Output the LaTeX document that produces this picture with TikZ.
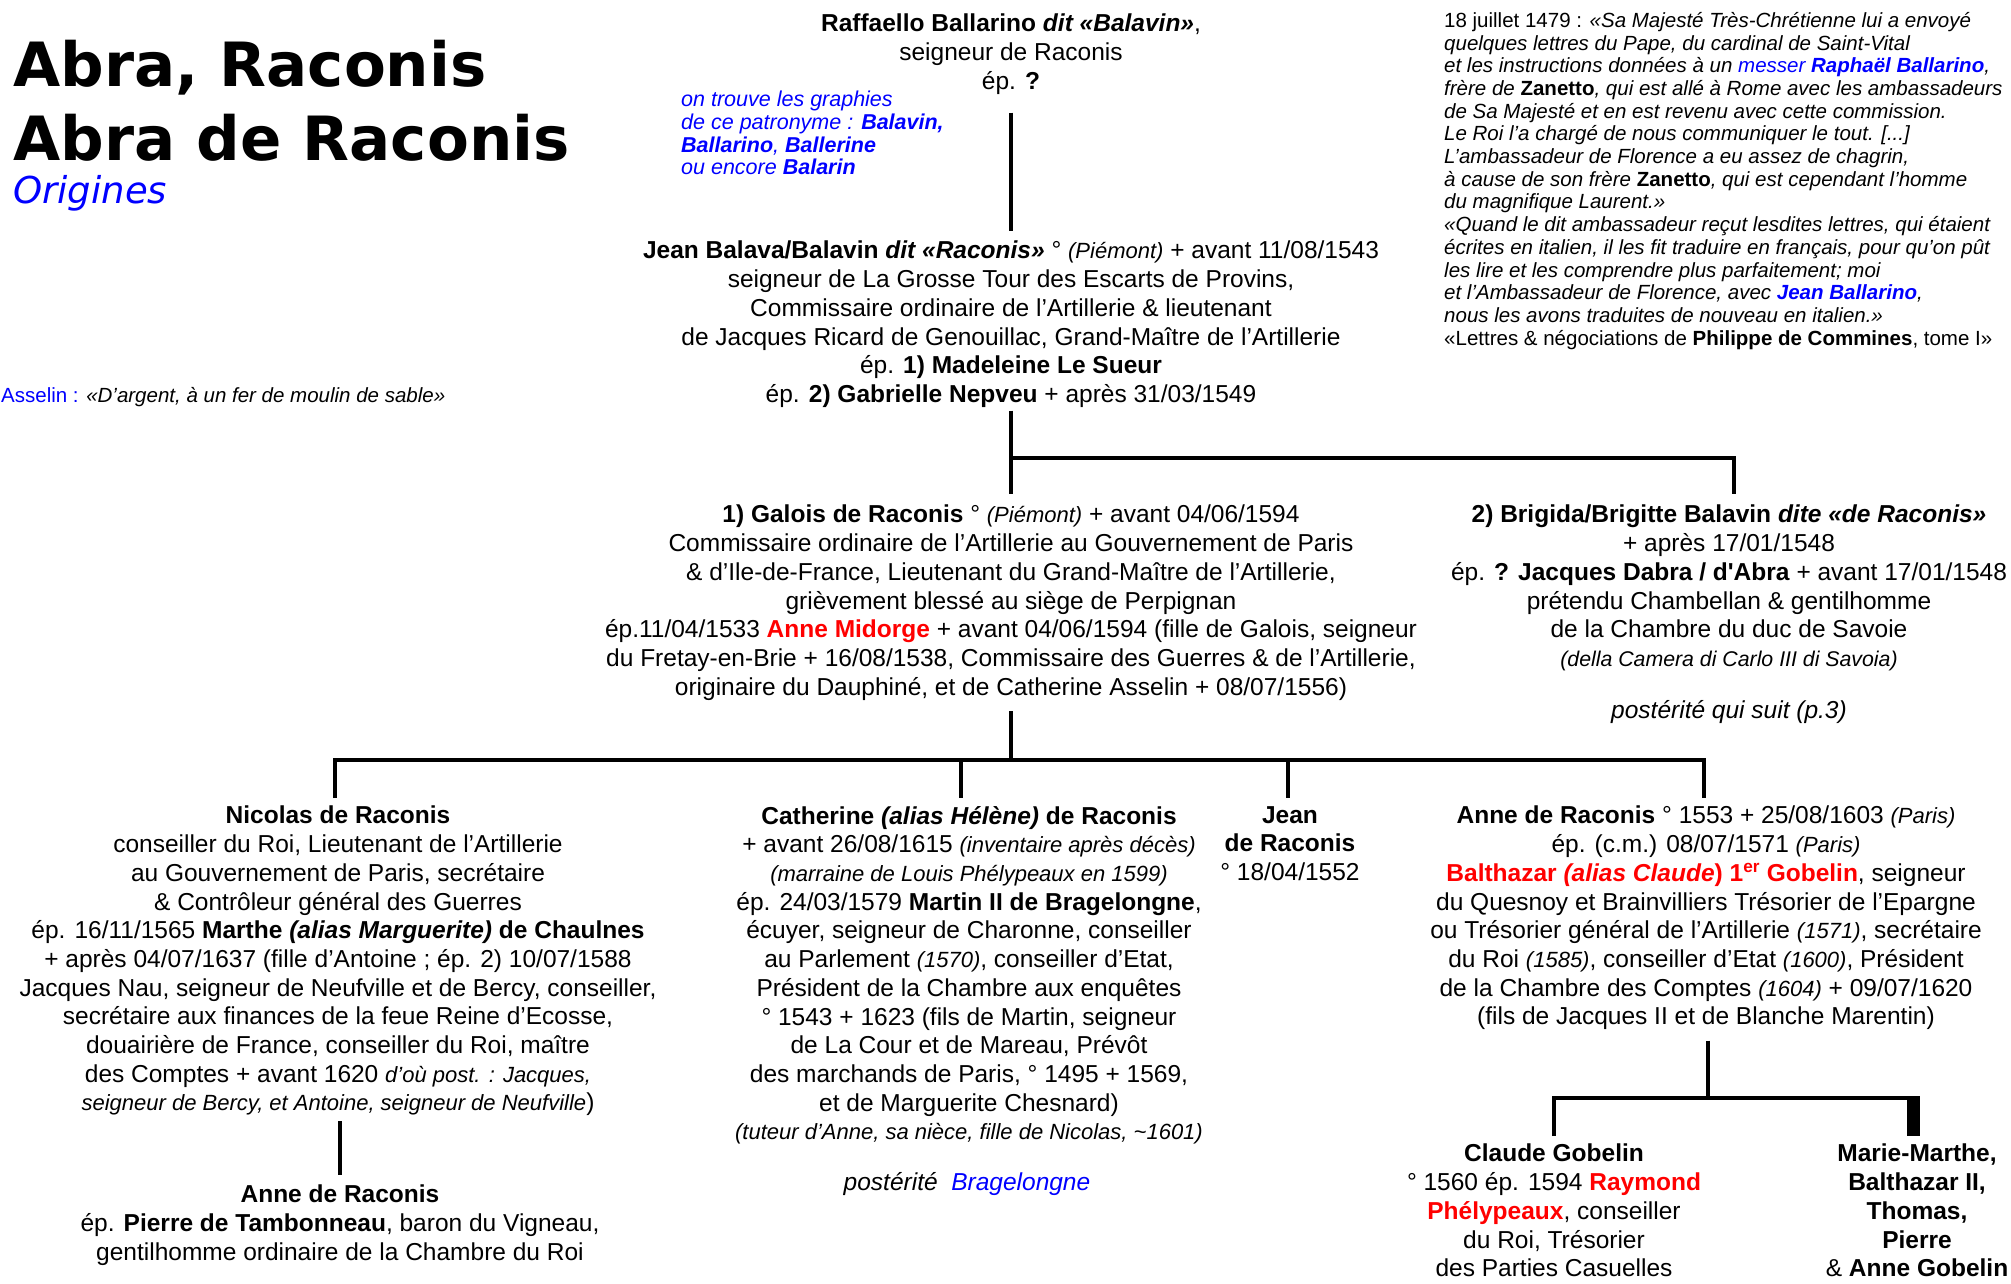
\documentclass[tikz,border=0pt]{standalone}
\usepackage{fontspec}
\setmainfont{Liberation Sans}
\newfontfamily\titrefont{DejaVu Sans}
\usepackage{xcolor}
\definecolor{lienbleu}{HTML}{0000FF}
\definecolor{nomrouge}{HTML}{FF0000}
\usepackage{tikz}
\usetikzlibrary{positioning,calc}

\newcommand\corps{\fontsize{24.5}{28.7}\selectfont}
\newcommand\petit{\fontsize{20.5}{22.7}\selectfont}
\newcommand\sit[1]{{\fontsize{22}{28.7}\selectfont\itshape #1}}
\newcommand\rouge[1]{\textcolor{nomrouge}{\textbf{#1}}}
\newcommand\hs{\rule{0pt}{22.6pt}}
\newcommand\ns{\rule{0pt}{16.5pt}}

\begin{document}
\begin{tikzpicture}[x=1pt,y=-1pt,
  pers/.style={anchor=north,align=center,inner sep=0pt,font=\corps,execute at begin node=\hs},
  note/.style={anchor=north west,align=left,inner sep=0pt,font=\petit,execute at begin node=\ns},
  lien/.style={line width=3.2pt}]
  \fill[white] (0,0) rectangle (2011,1283);
  \useasboundingbox (0,0) rectangle (2011,1283);
  % titre
  \node[anchor=base west,inner sep=0pt,font=\fontsize{61}{74}\selectfont\titrefont\bfseries] (titre1) at (13,86) {Abra, Raconis};
  \node[anchor=base west,inner sep=0pt,font=\fontsize{61}{74}\selectfont\titrefont\bfseries] (titre2) at (13,160) {Abra de Raconis};
  \node[anchor=base west,inner sep=0pt,font=\fontsize{37}{44}\selectfont\titrefont\itshape,text=lienbleu] (origines) at (13,203) {Origines};
  \node[anchor=base west,inner sep=0pt,font=\fontsize{20.5}{24}\selectfont] (armes) at (1,402)
    {\textcolor{lienbleu}{Asselin :} \textit{«D’argent, à un fer de moulin de sable»}};
  % notes
  \node[note,text=lienbleu,font=\fontsize{21.5}{22.7}\selectfont\itshape] (graphies) at (681,91)
    {on trouve les graphies\\
     de ce patronyme : \textbf{Balavin,}\\
     \textbf{Ballarino}, \textbf{Ballerine}\\
     ou encore \textbf{Balarin}};
  \node[note,font=\petit\itshape] (commines) at (1444,12)
    {\textup{18 juillet 1479 :} «Sa Majesté Très-Chrétienne lui a envoyé\\
     quelques lettres du Pape, du cardinal de Saint-Vital\\
     et les instructions données à un \textcolor{lienbleu}{messer \textbf{Raphaël Ballarino}},\\
     frère de \textup{\textbf{Zanetto}}, qui est allé à Rome avec les ambassadeurs\\
     de Sa Majesté et en est revenu avec cette commission.\\
     Le Roi l’a chargé de nous communiquer le tout. [...]\\
     L’ambassadeur de Florence a eu assez de chagrin,\\
     à cause de son frère \textup{\textbf{Zanetto}}, qui est cependant l’homme\\
     du magnifique Laurent.»\\
     «Quand le dit ambassadeur reçut lesdites lettres, qui étaient\\
     écrites en italien, il les fit traduire en français, pour qu’on pût\\
     les lire et les comprendre plus parfaitement; moi\\
     et l’Ambassadeur de Florence, avec \textcolor{lienbleu}{\textbf{Jean Ballarino}},\\
     nous les avons traduites de nouveau en italien.»\\
     \textup{«Lettres \& négociations de \textbf{Philippe de Commines}, tome I»}};
  % generations
  \node[pers] (raf) at (1011,14)
    {\textbf{Raffaello Ballarino \textit{dit «Balavin»}},\\
     seigneur de Raconis\\
     ép. \textbf{?}};
  \node[pers] (jean) at (1011,241)
    {\textbf{Jean Balava/Balavin \textit{dit «Raconis»}} ° \sit{(Piémont)} + avant 11/08/1543\\
     seigneur de La Grosse Tour des Escarts de Provins,\\
     Commissaire ordinaire de l’Artillerie \& lieutenant\\
     de Jacques Ricard de Genouillac, Grand-Maître de l’Artillerie\\
     ép. \textbf{1) Madeleine Le Sueur}\\
     ép. \textbf{2) Gabrielle Nepveu} + après 31/03/1549};
  \node[pers] (galois) at (1011,505)
    {\textbf{1) Galois de Raconis} ° \sit{(Piémont)} + avant 04/06/1594\\
     Commissaire ordinaire de l’Artillerie au Gouvernement de Paris\\
     \& d’Ile-de-France, Lieutenant du Grand-Maître de l’Artillerie,\\
     grièvement blessé au siège de Perpignan\\
     ép.11/04/1533 \rouge{Anne Midorge} + avant 04/06/1594 (fille de Galois, seigneur\\
     du Fretay-en-Brie + 16/08/1538, Commissaire des Guerres \& de l’Artillerie,\\
     originaire du Dauphiné, et de Catherine Asselin + 08/07/1556)};
  \node[pers] (brig) at (1729,505)
    {\textbf{2) Brigida/Brigitte Balavin \textit{dite «de Raconis»}}\\
     + après 17/01/1548\\
     ép. \textbf{? Jacques Dabra / d\textquotesingle Abra} + avant 17/01/1548\\
     prétendu Chambellan \& gentilhomme\\
     de la Chambre du duc de Savoie\\
     {\fontsize{21.3}{28.7}\selectfont\itshape (della Camera di Carlo III di Savoia)}};
  \node[pers,font=\corps\itshape] (brigpost) at (1729,696) {postérité qui suit (p.3)};
  \node[pers] (nico) at (338,806)
    {\textbf{Nicolas de Raconis}\\
     conseiller du Roi, Lieutenant de l’Artillerie\\
     au Gouvernement de Paris, secrétaire\\
     \& Contrôleur général des Guerres\\
     ép. 16/11/1565 \textbf{Marthe \textit{(alias Marguerite)} de Chaulnes}\\
     + après 04/07/1637 (fille d’Antoine ; ép. 2) 10/07/1588\\
     Jacques Nau, seigneur de Neufville et de Bercy, conseiller,\\
     secrétaire aux finances de la feue Reine d’Ecosse,\\
     douairière de France, conseiller du Roi, maître\\
     des Comptes + avant 1620 \sit{d’où post. : Jacques,}\\
     \sit{seigneur de Bercy, et Antoine, seigneur de Neufville})};
  \node[pers] (annet) at (340,1185)
    {\textbf{Anne de Raconis}\\
     ép. \textbf{Pierre de Tambonneau}, baron du Vigneau,\\
     gentilhomme ordinaire de la Chambre du Roi};
  \node[pers] (cath) at (969,806)
    {\textbf{Catherine \textit{(alias Hélène)} de Raconis}\\
     + avant 26/08/1615 \sit{(inventaire après décès)}\\
     \sit{(marraine de Louis Phélypeaux en 1599)}\\
     ép. 24/03/1579 \textbf{Martin II de Bragelongne},\\
     écuyer, seigneur de Charonne, conseiller\\
     au Parlement \sit{(1570)}, conseiller d’Etat,\\
     Président de la Chambre aux enquêtes\\
     ° 1543 + 1623 (fils de Martin, seigneur\\
     de La Cour et de Mareau, Prévôt\\
     des marchands de Paris, ° 1495 + 1569,\\
     et de Marguerite Chesnard)\\
     \sit{(tuteur d’Anne, sa nièce, fille de Nicolas, \textasciitilde1601)}};
  \node[pers,font=\corps\itshape] (cathpost) at (967,1168) {postérité \ \textcolor{lienbleu}{Bragelongne}};
  \node[pers] (jeanr) at (1290,806)
    {\textbf{Jean}\\
     \textbf{de Raconis}\\
     ° 18/04/1552};
  \node[pers] (anneg) at (1706,806)
    {\textbf{Anne de Raconis} ° 1553 + 25/08/1603 \sit{(Paris)}\\
     ép. (c.m.) 08/07/1571 \sit{(Paris)}\\
     \rouge{Balthazar \textit{(alias Claude}) 1\textsuperscript{er} Gobelin}, seigneur\\
     du Quesnoy et Brainvilliers Trésorier de l’Epargne\\
     ou Trésorier général de l’Artillerie \sit{(1571)}, secrétaire\\
     du Roi \sit{(1585)}, conseiller d’Etat \sit{(1600)}, Président\\
     de la Chambre des Comptes \sit{(1604)} + 09/07/1620\\
     (fils de Jacques II et de Blanche Marentin)};
  \node[pers] (claude) at (1554,1144)
    {\textbf{Claude Gobelin}\\
     ° 1560 ép. 1594 \rouge{Raymond}\\
     \rouge{Phélypeaux}, conseiller\\
     du Roi, Trésorier\\
     des Parties Casuelles};
  \node[pers] (marie) at (1917,1144)
    {\textbf{Marie-Marthe,}\\
     \textbf{Balthazar II,}\\
     \textbf{Thomas,}\\
     \textbf{Pierre}\\
     \& \textbf{Anne Gobelin}};
  % liens
  \coordinate (fam1) at (1011,458);
  \coordinate (fam2) at (1011,760);
  \coordinate (fam3) at (1708,1098);
  \draw[lien] ($(raf.south)+(0,18)$) -- ($(raf.south |- jean.north)+(0,-10)$);
  \draw[lien] ($(jean.south)+(0,3)$) -- ($(galois.north)+(0,-11)$);
  \draw[lien] (fam1) -| ($(brig.north)+(5,-11)$);
  \draw[lien] ($(galois.south)+(0,11)$) -- (fam2);
  \draw[lien] ($(nico.north)+(-3,-8)$) |- (fam2) -| ($(anneg.north)+(-2,-8)$);
  \draw[lien] (fam2 -| cath.north) ++(-8,0) -- ++(0,38);
  \draw[lien] (fam2 -| jeanr.north) ++(-2,0) -- ++(0,38);
  \draw[lien] ($(nico.south -| annet.north)+(0,5)$) -- ($(annet.north)+(0,-10)$);
  \draw[lien] ($(anneg.south -| fam3)+(0,10.5)$) -- (fam3);
  \draw[lien] ($(claude.north)+(0,-8)$) |- ($(fam3 -| marie.north)+(-4,0)$);
  \fill ($(fam3 -| marie.north)+(-10.5,-1.6)$) rectangle ($(marie.north)+(2.5,-8)$);
\end{tikzpicture}
\end{document}
